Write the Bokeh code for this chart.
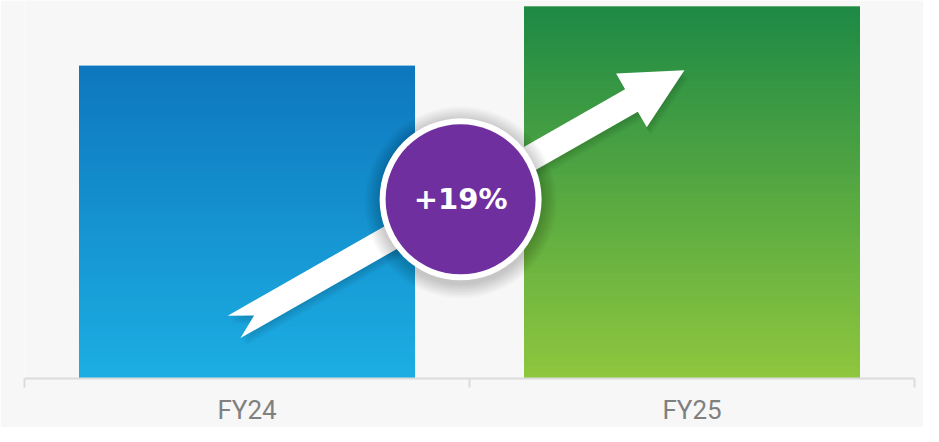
import numpy as np
from bokeh.plotting import figure
from bokeh.models import Range1d, FixedTicker
from bokeh.core.properties import value
from bokeh.embed import file_html
from bokeh.resources import INLINE

# ---- data ----
categories = ["FY24", "FY25"]
revenue = [100, 119]
growth_label = "+19%"

# ---- styling ----
top_colors = ["#0e77bd", "#1d8945"]
bottom_colors = ["#1caee3", "#8fc73e"]
BG = "#f7f7f7"
AXIS_GREY = "#dcdcdc"
PURPLE = "#6f2f9f"
BAR_W = 0.755
FRAME_W, FRAME_H = 890, 378

n_cat = len(categories)
x_pos = [i + 0.5 for i in range(n_cat)]
y_end = max(revenue) * 1.016
sx = FRAME_W / n_cat          # px per x unit
sy = FRAME_H / y_end          # px per y unit

p = figure(frame_width=FRAME_W, frame_height=FRAME_H,
           output_backend="svg", toolbar_location=None,
           x_range=Range1d(0, n_cat), y_range=Range1d(0, y_end),
           min_border_left=24, min_border_right=9,
           min_border_top=0, min_border_bottom=0,
           background_fill_color=BG, border_fill_color=BG,
           outline_line_color=None)
p.yaxis.visible = False
p.grid.visible = False


def hex2rgb(h):
    h = h.lstrip("#")
    return np.array([int(h[i:i + 2], 16) for i in (0, 2, 4)], dtype=float)


def mix(c_bottom, c_top, t):
    a, b = hex2rgb(c_bottom), hex2rgb(c_top)
    out = []
    for tt in t:
        c = a + (b - a) * tt
        out.append("#%02x%02x%02x" % tuple(int(round(v)) for v in c))
    return out


# ---- gradient bars ----
N = 60
for xi, v, ct, cb in zip(x_pos, revenue, top_colors, bottom_colors):
    p.vbar(x=[xi], top=[v], width=BAR_W, fill_color=mix(cb, ct, [0.5])[0],
           line_color=None)
    k = np.arange(N)
    bottoms = v * k / N
    tops = np.minimum(v * (k + 1.8) / N, v)
    t = (k + 0.5) / N
    cols = mix(cb, ct, t)
    p.vbar(x=[xi] * N, bottom=bottoms, top=tops, width=BAR_W,
           fill_color=cols, line_color=None)

# ---- arrow (built in pixel space, converted to data space) ----
tail = np.array([0.471 * sx, 16.5 * sy])
tip = np.array([1.483 * sx, 98.6 * sy])
d = tip - tail
L = np.hypot(*d)
u = d / L
nrm = np.array([-u[1], u[0]])
hw, hl, hhw, notch = 12.9, 61.0, 31.0, 23.0
base = tail + u * (L - hl)
pts = [tail + nrm * hw, base + nrm * hw, base + nrm * hhw, tip,
       base - nrm * hhw, base - nrm * hw, tail - nrm * hw, tail + u * notch]
ax = [q[0] / sx for q in pts]
ay = [q[1] / sy for q in pts]

# soft shadow
for ox, oy in [(1, -2), (2, -4), (3, -6), (4, -8)]:
    p.patch([a + ox / sx for a in ax], [b + oy / sy for b in ay],
            fill_color="black", fill_alpha=0.035, line_color=None)
p.patch(ax, ay, fill_color="white", line_color=None)

# ---- growth badge ----
cx, cy = 0.98, 57.3
for k in range(1, 11):
    p.scatter([cx], [cy - 3 / sy], size=162 + 3 * k, marker="circle",
              fill_color="black", fill_alpha=0.018, line_color=None)
p.scatter([cx], [cy], size=162, marker="circle", fill_color="white", line_color=None)
p.scatter([cx], [cy], size=150, marker="circle", fill_color=PURPLE, line_color=None)
p.text(x=[cx], y=[cy], text=[growth_label], text_color="white",
       text_font=value("DejaVu Sans"), text_font_style="bold",
       text_font_size="29px", text_align="center", text_baseline="middle")

# ---- x axis: boundary ticks + centred labels ----
xa = p.xaxis[0]
xa.ticker = FixedTicker(ticks=x_pos, minor_ticks=list(range(n_cat + 1)))
xa.major_label_overrides = {x: c for x, c in zip(x_pos, categories)}
xa.major_tick_line_color = None
xa.major_tick_in = 0
xa.major_tick_out = 0
xa.minor_tick_in = 0
xa.minor_tick_out = 9
xa.minor_tick_line_color = AXIS_GREY
xa.minor_tick_line_width = 2
xa.axis_line_color = AXIS_GREY
xa.axis_line_width = 2
xa.major_label_text_font = "Roboto"
xa.major_label_text_font_size = "26px"
xa.major_label_text_color = "#808080"
xa.major_label_standoff = 7

open("out.html", "w").write(file_html(p, INLINE))
